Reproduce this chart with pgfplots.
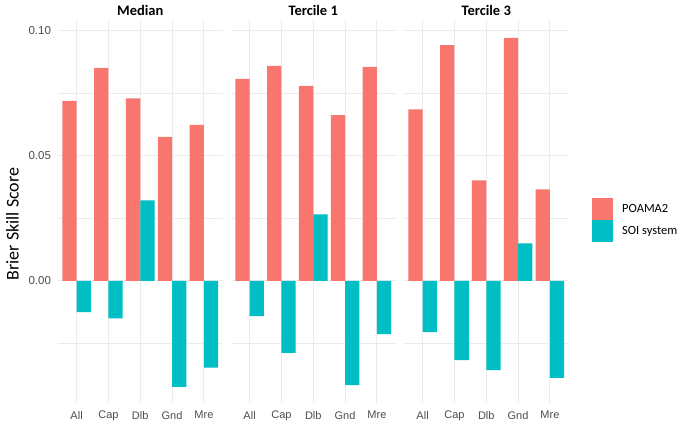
\documentclass[border=0pt]{standalone}
\usepackage{pgfplots}
\pgfplotsset{compat=1.18}
\usepackage{fontspec}
\setmainfont{Carlito}
\newfontfamily\tickfont{Liberation Sans}

\definecolor{poama}{HTML}{F8766D}
\definecolor{soi}{HTML}{00BFC4}
\definecolor{gridgrey}{HTML}{EBEBEB}
\definecolor{tickgrey}{HTML}{4D4D4D}

% one ggplot-like facet panel
\pgfplotsset{
  facet/.style={
    scale only axis, width=165.5pt, height=383.3pt, anchor=south west,
    xmin=-0.6, xmax=4.6, ymin=-0.049, ymax=0.1043,
    ybar=0pt, bar width=0.45,
    xtick={0,1,2,3,4}, xticklabels={All,Cap,Dlb,Gnd,Mre},
    ytick={0,0.05,0.1}, minor ytick={-0.025,0.025,0.075},
    grid=both,
    major grid style={gridgrey, line width=1pt},
    minor grid style={gridgrey, line width=0.5pt},
    axis line style={draw=none},
    major tick length=0pt, minor tick length=0pt,
    xticklabel style={font=\tickfont\fontsize{11}{13}\selectfont, text=tickgrey, yshift=-4pt},
    yticklabels={},
    every axis title shift=0pt,
    title style={font=\bfseries\fontsize{14.5}{17}\selectfont, at={(0.5,1)}, anchor=base, yshift=5pt},
  },
}

\begin{document}
\begin{tikzpicture}
\useasboundingbox (0,0) rectangle (685pt,425pt);

\begin{axis}[facet, at={(57.5pt,21.5pt)}, title={Median},
  yticklabels={0.00,0.05,0.10},
  yticklabel style={font=\tickfont\fontsize{11.5}{13}\selectfont, text=tickgrey, xshift=-3pt}]
\addplot[fill=poama, draw=none, bar shift=-0.225] coordinates {(0,0.0720) (1,0.0852) (2,0.0730) (3,0.0576) (4,0.0624)};
\addplot[fill=soi, draw=none, bar shift=0.225] coordinates {(0,-0.0125) (1,-0.0150) (2,0.0322) (3,-0.0424) (4,-0.0347)};
\end{axis}

\begin{axis}[facet, at={(230.5pt,21.5pt)}, title={Tercile 1}]
\addplot[fill=poama, draw=none, bar shift=-0.225] coordinates {(0,0.0808) (1,0.0860) (2,0.0780) (3,0.0663) (4,0.0856)};
\addplot[fill=soi, draw=none, bar shift=0.225] coordinates {(0,-0.0141) (1,-0.0288) (2,0.0266) (3,-0.0417) (4,-0.0213)};
\end{axis}

\begin{axis}[facet, at={(403.5pt,21.5pt)}, title={Tercile 3},
  legend style={at={(rel axis cs:1,0.5)}, anchor=west, xshift=23pt, yshift=-8pt,
    draw=none, fill=none, inner sep=0pt, row sep=0pt,
    font=\fontsize{12.5}{14}\selectfont,
    nodes={inner sep=0pt, anchor=west},
    /tikz/every odd column/.style={column sep=9pt}},
  legend cell align=left,
  legend image code/.code={\fill[#1, draw=none] (0pt,-11pt) rectangle (21pt,11pt);}]
\addplot[fill=poama, draw=none, bar shift=-0.225] coordinates {(0,0.0686) (1,0.0943) (2,0.0402) (3,0.0972) (4,0.0366)};
\addplot[fill=soi, draw=none, bar shift=0.225] coordinates {(0,-0.0205) (1,-0.0317) (2,-0.0357) (3,0.0150) (4,-0.0388)};
\legend{POAMA2,SOI system}
\end{axis}

\node[rotate=90, font=\fontsize{18}{21}\selectfont] at (12.5pt,201pt) {Brier Skill Score};
\end{tikzpicture}
\end{document}
